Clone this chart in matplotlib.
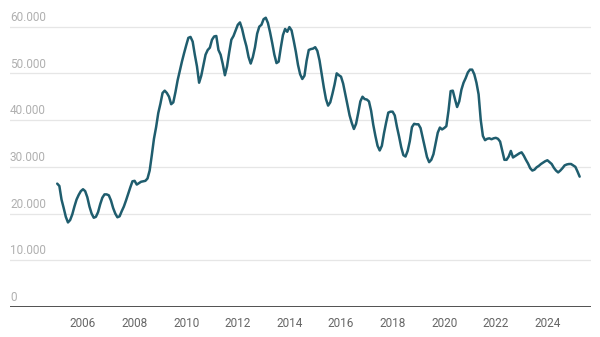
import matplotlib
matplotlib.use("Agg")
import matplotlib.pyplot as plt
import matplotlib.transforms as mtransforms
import numpy as np

plt.rcParams["font.family"] = ["Roboto", "DejaVu Sans"]

# Monthly values (in thousands), January 2005 to April 2025
v2005 = [26.4, 25.9, 23.0, 21.2, 19.3, 18.1, 18.6, 19.8, 21.5, 23.0, 24.0, 24.8]
v2006 = [25.2, 24.8, 23.5, 21.5, 20.0, 19.1, 19.3, 20.3, 22.0, 23.4, 24.1, 24.1]
v2007 = [23.9, 22.8, 21.2, 20.0, 19.2, 19.4, 20.5, 21.5, 22.8, 24.2, 25.6, 26.9]
v2008 = [27.0, 26.2, 26.5, 26.8, 26.9, 27.0, 27.5, 29.2, 32.5, 36.0, 38.5, 41.5]
v2009 = [43.5, 45.8, 46.3, 45.8, 45.0, 43.4, 43.8, 46.0, 48.5, 50.5, 52.5, 54.3]
v2010 = [56.0, 57.6, 57.8, 56.8, 54.0, 51.5, 48.0, 49.5, 51.8, 54.0, 55.0, 55.5]
v2011 = [57.2, 57.9, 58.0, 55.0, 54.0, 52.0, 49.6, 51.5, 54.5, 57.2, 58.0, 59.2]
v2012 = [60.4, 60.9, 59.5, 57.5, 55.8, 53.5, 52.1, 53.5, 55.6, 58.5, 60.0, 60.4]
v2013 = [61.6, 61.9, 60.8, 58.8, 56.5, 54.0, 52.2, 52.5, 55.5, 58.2, 59.5, 58.9]
v2014 = [59.9, 59.2, 57.0, 54.6, 51.8, 49.8, 48.8, 49.5, 52.7, 55.0, 55.2, 55.3]
v2015 = [55.6, 54.8, 52.8, 49.9, 47.0, 44.5, 43.1, 43.8, 45.6, 47.6, 50.0, 49.6]
v2016 = [49.3, 47.8, 45.5, 43.3, 41.0, 39.4, 38.1, 39.2, 41.5, 44.0, 45.0, 44.5]
v2017 = [44.4, 44.0, 42.0, 39.0, 36.6, 34.5, 33.5, 34.5, 37.2, 39.5, 41.6, 41.8]
v2018 = [41.8, 41.0, 38.6, 36.5, 34.2, 32.5, 32.2, 33.4, 35.5, 38.5, 39.2, 39.1]
v2019 = [39.1, 38.3, 36.2, 34.0, 32.1, 31.0, 31.5, 32.7, 35.0, 37.3, 38.4, 38.0]
v2020 = [38.3, 38.7, 42.0, 46.2, 46.3, 44.5, 42.8, 44.0, 46.5, 48.0, 49.0, 50.2]
v2021 = [50.8, 50.8, 49.8, 48.0, 45.5, 40.0, 36.6, 35.7, 36.0, 36.1, 35.9, 36.1]
v2022 = [36.2, 36.0, 35.4, 33.4, 31.5, 31.5, 32.2, 33.4, 32.0, 32.3, 32.6, 32.9]
v2023 = [33.1, 32.4, 31.5, 30.7, 29.7, 29.2, 29.4, 29.9, 30.2, 30.6, 30.9, 31.2]
v2024 = [31.4, 31.0, 30.6, 29.8, 29.2, 28.8, 29.2, 29.7, 30.3, 30.5, 30.6, 30.6]
v2025 = [30.3, 30.0, 29.0, 27.9]

yearly = [v2005, v2006, v2007, v2008, v2009, v2010, v2011, v2012, v2013,
          v2014, v2015, v2016, v2017, v2018, v2019, v2020, v2021, v2022,
          v2023, v2024, v2025]
start_year = 2005

y_ticks = [0, 10000, 20000, 30000, 40000, 50000, 60000]
y_tick_labels = ["0", "10.000", "20.000", "30.000", "40.000", "50.000", "60.000"]
x_ticks = [2006, 2008, 2010, 2012, 2014, 2016, 2018, 2020, 2022, 2024]

values = np.concatenate([np.array(v, dtype=float) for v in yearly]) * 1000
months = np.arange(len(values))
dates = start_year + months / 12.0

fig = plt.figure(figsize=(6.0, 3.37), dpi=100)
ax = fig.add_axes([10 / 600, 30 / 337, 581 / 600, 307 / 337])

ax.plot(dates, values, color="#1f5d6e", linewidth=1.8, solid_joinstyle="round",
        solid_capstyle="round", zorder=3)

ax.set_xlim(2003.17, 2025.69)
ax.set_ylim(0, 65700)

# light horizontal grid lines
for t in y_ticks[1:]:
    ax.axhline(t, color="#e6e6e6", linewidth=0.9, zorder=1)
# baseline
ax.axhline(0, color="#333333", linewidth=1.2, zorder=2)

# y labels sit above their grid lines at the left edge
trans = mtransforms.blended_transform_factory(ax.transAxes, ax.transData)
offset = mtransforms.ScaledTranslation(0, 2 / 72, fig.dpi_scale_trans)
for t, lab in zip(y_ticks, y_tick_labels):
    ax.text(0.0, t, lab, transform=trans + offset, ha="left", va="bottom",
            fontsize=8.5, color="#b0b0b0")

ax.set_yticks([])
ax.set_xticks(x_ticks)
ax.set_xticklabels([str(x) for x in x_ticks])
ax.tick_params(axis="x", length=0, pad=7, labelsize=8.5, labelcolor="#666666")

for s in ax.spines.values():
    s.set_visible(False)

fig.savefig("out.png", dpi=100)
